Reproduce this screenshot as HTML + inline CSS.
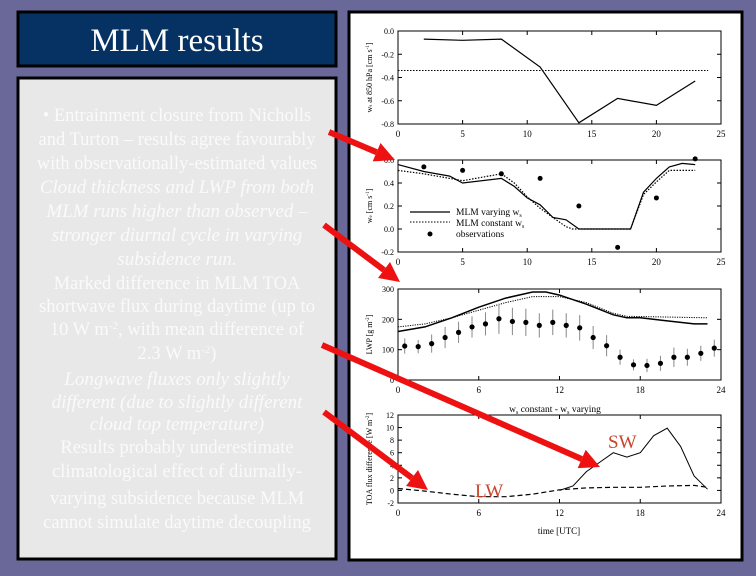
<!DOCTYPE html>
<html><head><meta charset="utf-8"><style>
html,body{margin:0;padding:0;background:#6a6898;}
svg{display:block;font-family:"Liberation Serif",serif;}
</style></head><body>
<svg id="s" width="756" height="576" viewBox="0 0 756 576">
<rect x="0" y="0" width="756" height="576" fill="#6a6898"/>
<rect x="18" y="12" width="318" height="54" fill="#053263" stroke="#000" stroke-width="3"/>
<text x="177" y="51" text-anchor="middle" fill="#fff" font-size="33">MLM results</text>
<rect x="18" y="78" width="318" height="481" fill="#e8e8e8" stroke="#000" stroke-width="3"/>
<g fill="#fafafa" font-size="18.5" text-anchor="middle">
<text x="177" y="121">• Entrainment closure from Nicholls</text>
<text x="177" y="145">and Turton – results agree favourably</text>
<text x="177" y="169">with observationally-estimated values</text>
<text x="177" y="193" font-style="italic" font-size="19">Cloud thickness and LWP from both</text>
<text x="177" y="217" font-style="italic" font-size="19">MLM runs higher than observed –</text>
<text x="177" y="241" font-style="italic" font-size="19">stronger diurnal cycle in varying</text>
<text x="177" y="265" font-style="italic" font-size="19">subsidence run.</text>
<text x="177" y="289">Marked difference in MLM TOA</text>
<text x="177" y="312">shortwave flux during daytime (up to</text>
<text x="177" y="335">10 W m<tspan font-size="11" dy="-6">-2</tspan><tspan dy="6">, with mean difference of</tspan></text>
<text x="177" y="359">2.3 W m<tspan font-size="11" dy="-6">-2</tspan><tspan dy="6">)</tspan></text>
<text x="177" y="385" font-style="italic" font-size="19">Longwave fluxes only slightly</text>
<text x="177" y="408" font-style="italic" font-size="19">different (due to slightly different</text>
<text x="177" y="430" font-style="italic" font-size="19">cloud top temperature)</text>
<text x="177" y="453">Results probably underestimate</text>
<text x="177" y="477">climatological effect of diurnally-</text>
<text x="177" y="504">varying subsidence because MLM</text>
<text x="177" y="528">cannot simulate daytime decoupling</text>
</g>
<rect x="349" y="12" width="393" height="548" fill="#fff" stroke="#000" stroke-width="3"/>
<g id="charts"></g>
<g id="arrows"></g>
<text x="608" y="448" fill="#c8442a" font-size="19">SW</text>
<text x="475" y="497" fill="#c8442a" font-size="19">LW</text>
</svg>
<script>
// chart 1: subsidence
const c1x=[2,5,8,11,14,17,20,23];
const c1ws=[-0.07,-0.08,-0.07,-0.31,-0.79,-0.58,-0.64,-0.43];
const c1const=-0.34;
// chart 2: entrainment
const c2vx=[0,2,4,5,8,9,10,11,12,13,14,15,16,17,18,19,20,21,22,23];
const c2vy=[0.56,0.50,0.46,0.40,0.44,0.37,0.27,0.21,0.10,0.08,0,0,0,0,0,0.32,0.44,0.54,0.57,0.56];
const c2cx=[0,2,4,5,8,9,10,11,12,13,13.5,18,19,20,21,23];
const c2cy=[0.51,0.48,0.44,0.42,0.48,0.40,0.28,0.18,0.10,0.02,0,0,0.30,0.41,0.51,0.51];
const c2ox=[2,5,8,11,14,17,20,23];
const c2oy=[0.54,0.51,0.48,0.44,0.20,-0.16,0.27,0.61];
// chart 3: LWP
const c3vx=[0,2,4,6,8,10,11,12,14,16,17,18,20,22,23];
const c3vy=[160,175,205,240,270,290,290,280,250,215,205,205,195,185,185];
const c3cx=[0,2,4,6,8,10,12,14,16,17,23];
const c3cy=[175,185,205,230,255,275,275,255,220,210,205];
const c3oy=[112,110,120,140,157,175,185,202,193,190,180,190,180,172,140,113,75,50,48,55,75,75,88,105];
const c3oe=[25,22,30,35,35,35,38,50,45,45,40,42,40,42,38,35,25,18,22,25,32,28,25,28];
// chart 4: TOA flux difference
const c4sx=[12,13,14,15,16,17,18,19,20,21,22,23];
const c4sy=[0,0.7,3,4.5,6,5.3,6,8.7,9.9,7,2.3,0.2];
const c4lx=[0,2,4,6,8,10,12,14,16,18,20,22,23];
const c4ly=[0.3,-0.1,-0.6,-1.0,-1.0,-0.6,0.1,0.4,0.5,0.5,0.7,0.8,0.5];

const NS='http://www.w3.org/2000/svg';
const G=document.getElementById('charts');
function mk(t,a,p){const e=document.createElementNS(NS,t);for(const k in a)e.setAttribute(k,a[k]);(p||G).appendChild(e);return e;}
function chart(name,x0,x1,xmax,y0,y1,ymin,ymax,xt,yt,ylab){
  const g=mk('g',{});
  
  
  const X=v=>x0+(v/xmax)*(x1-x0), Y=v=>y1-(v-ymin)/(ymax-ymin)*(y1-y0);
  const r=mk('rect',{x:x0,y:y0,width:x1-x0,height:y1-y0,fill:'none',stroke:'#000','stroke-width':1},g);
  
  
  xt.forEach(v=>{mk('line',{x1:X(v),x2:X(v),y1:y1,y2:y1-4,stroke:'#000'},g);mk('line',{x1:X(v),x2:X(v),y1:y0,y2:y0+4,stroke:'#000'},g);
    const t=mk('text',{x:X(v),y:y1+13,'text-anchor':'middle','font-size':9},g);t.textContent=v;
    
    });
  yt.forEach(v=>{mk('line',{x1:x0,x2:x0+4,y1:Y(v),y2:Y(v),stroke:'#000'},g);mk('line',{x1:x1,x2:x1-4,y1:Y(v),y2:Y(v),stroke:'#000'},g);
    const t=mk('text',{x:x0-4,y:Y(v)+3,'text-anchor':'end','font-size':8},g);t.textContent=(Math.abs(v)<1&&v!==0||yt.some(q=>q%1))?v.toFixed(1):v;
    
    });
  const cy=(y0+y1)/2;
  const yl=mk('text',{x:x0-26,y:cy,'text-anchor':'middle','font-size':8,transform:`rotate(-90 ${x0-26} ${cy})`},g);yl.innerHTML=ylab;
  
  
  return {g,X,Y};
}
function line(c,xs,ys,dash,name,w){const d=xs.map((x,i)=>(i?'L':'M')+c.X(x).toFixed(1)+','+c.Y(ys[i]).toFixed(1)).join('');
  const p=mk('path',{d:d,fill:'none',stroke:'#000','stroke-width':w||1.2,'stroke-dasharray':dash||'none'},c.g);
  
  }

const A=chart('subsidence-chart',398,721,25,31,124,-0.8,0,[0,5,10,15,20,25],[0,-0.2,-0.4,-0.6,-0.8],'w<tspan font-size="5">s</tspan> at 850 hPa [cm s<tspan font-size="5" dy="-3">-1</tspan><tspan dy="3">]</tspan>');
line(A,c1x,c1ws,null,'ws-varying-line');
line(A,[0,24],[c1const,c1const],'1.5,1.5','ws-constant-line',1);

const B=chart('entrainment-chart',398,721,25,160,252,-0.2,0.6,[0,5,10,15,20,25],[0.6,0.4,0.2,0,-0.2],'w<tspan font-size="5">e</tspan> [cm s<tspan font-size="5" dy="-3">-1</tspan><tspan dy="3">]</tspan>');
line(B,c2vx,c2vy,null,'we-varying-line');
line(B,c2cx,c2cy,'1.5,1.5','we-constant-line');
c2ox.forEach((x,i)=>{const c=mk('circle',{cx:B.X(x),cy:B.Y(c2oy[i]),r:2.5,fill:'#000'},B.g);
  
  });
{const lg=mk('g',{},B.g);
 
 
 mk('line',{x1:410,x2:450,y1:212,y2:212,stroke:'#000','stroke-width':1.2},lg);
 mk('line',{x1:410,x2:450,y1:222,y2:222,stroke:'#000','stroke-dasharray':'1.5,1.5'},lg);
 mk('circle',{cx:430,cy:234,r:2.5,fill:'#000'},lg);
 const l=['MLM varying w<tspan font-size="6" dy="2">s</tspan>','MLM constant w<tspan font-size="6" dy="2">s</tspan>','observations'];
 l.forEach((s,i)=>{const t=mk('text',{x:456,y:215+i*11,'font-size':9.5},lg);t.innerHTML=s;
   
   });}

const C=chart('lwp-chart',398,721,24,289,380,0,300,[0,6,12,18,24],[0,100,200,300],'LWP [g m<tspan font-size="5" dy="-3">-2</tspan><tspan dy="3">]</tspan>');
line(C,c3vx,c3vy,null,'lwp-varying-line',1.5);
line(C,c3cx,c3cy,'1.2,1.2','lwp-constant-line',1);
c3oy.forEach((v,i)=>{const x=i+0.5;
  const e=mk('line',{x1:C.X(x),x2:C.X(x),y1:C.Y(v-c3oe[i]),y2:C.Y(v+c3oe[i]),stroke:'#888','stroke-width':1},C.g);
  
  
  const c=mk('circle',{cx:C.X(x),cy:C.Y(v),r:2.6,fill:'#000'},C.g);
  
  });
{const t=mk('text',{x:555,y:412,'text-anchor':'middle','font-size':9.5},C.g);t.innerHTML='w<tspan font-size="6" dy="2">s</tspan><tspan dy="-2"> constant - w</tspan><tspan font-size="6" dy="2">s</tspan><tspan dy="-2"> varying</tspan>';
 
 }

const D=chart('toa-flux-chart',398,721,24,415,503,-2,12,[0,6,12,18,24],[12,10,8,6,4,2,0,-2],'TOA flux difference [W m<tspan font-size="5" dy="-3">-2</tspan><tspan dy="3">]</tspan>');
line(D,c4sx,c4sy,null,'sw-line',1);
line(D,c4lx,c4ly,'5,3','lw-line',1.2);
{const t=mk('text',{x:559,y:534,'text-anchor':'middle','font-size':9},D.g);t.textContent='time [UTC]';
 
 }

const AR=document.getElementById('arrows');
function arrow(x1,y1,x2,y2,name){const ang=Math.atan2(y2-y1,x2-x1),L=20,W=10;
  const bx=x2-L*Math.cos(ang),by=y2-L*Math.sin(ang);
  const g=mk('g',{},AR);
  
  
  mk('line',{x1:x1,y1:y1,x2:bx,y2:by,stroke:'#ee1111','stroke-width':6},g);
  const px=-Math.sin(ang)*W,py=Math.cos(ang)*W;
  mk('polygon',{points:`${x2},${y2} ${bx+px},${by+py} ${bx-px},${by-py}`,fill:'#ee1111'},g);}
arrow(329,132,395,160,'arrow-1');
arrow(324,225,400,282,'arrow-2');
arrow(322,345,600,467,'arrow-3');
arrow(324,412,428,490,'arrow-4');
</script>
</body></html>
